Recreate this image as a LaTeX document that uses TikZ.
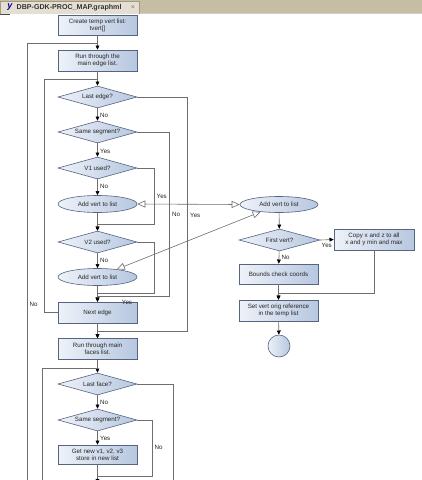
\documentclass[tikz,border=0pt]{standalone}
\usepackage{fontspec}
\setmainfont{Liberation Sans}
\usetikzlibrary{shapes.geometric,arrows.meta}
\definecolor{barcol}{HTML}{C6BDA5}
\definecolor{tabcol}{HTML}{E4DFD2}
\definecolor{tabline}{HTML}{A39A82}
\definecolor{fillA}{HTML}{EEF2F9}
\definecolor{fillB}{HTML}{B6C7E0}
\definecolor{boxline}{HTML}{55647F}
\definecolor{edgecol}{HTML}{6E6E6E}
\begin{document}
\begin{tikzpicture}[x=1pt,y=-1pt,
  every node/.style={font=\fontsize{6.2}{7.2}\selectfont, text=black!85},
  box/.style={rectangle, draw=boxline, line width=0.6pt, left color=fillA, right color=fillB, minimum width=79pt, inner sep=0pt, align=center},
  dia/.style={diamond, aspect=3.6, draw=boxline, line width=0.6pt, left color=fillA, right color=fillB, minimum width=79pt, minimum height=22pt, inner sep=0pt},
  ell/.style={ellipse, draw=boxline, line width=0.6pt, left color=fillA, right color=fillB, minimum width=79pt, minimum height=17pt, inner sep=0pt},
  edge/.style={draw=edgecol, line width=0.6pt},
  flowarr/.style={edge, -{Triangle[length=4.2pt,width=3.8pt,color=black]}},
  openboth/.style={edge, {Triangle[length=8pt,width=7pt,fill=white]}-{Triangle[length=8pt,width=7pt,fill=white]}},
  lab/.style={inner sep=0.5pt}
]
\useasboundingbox (0,0) rectangle (422,480);
\fill[white] (0,0) rectangle (422,480);
% tab bar
\fill[barcol] (0,0) rectangle (422,13);
\draw[tabline!50, line width=0.8pt] (0,13.2) -- (422,13.2);
\filldraw[fill=tabcol, draw=tabline, line width=0.5pt] (0,14) -- (0,1) -- (139,1) -- (139,14);
\node[font=\fontsize{7.1}{8}\selectfont\bfseries, text=black!80, anchor=west, inner sep=0pt] (tabtxt) at (16.5,7.3) {DBP-GDK-PROC\_MAP.graphml};
\node[font=\fontsize{7}{8}\selectfont, text=black!55, inner sep=0pt] (tabx) at (133,7.3) {×};
\node[font=\fontsize{9}{9}\selectfont\itshape\bfseries, text=blue!60!black, inner sep=0pt] (tabicon) at (10,7) {y};
\draw[black!70, line width=0.8pt] (0,14.5) -- (10,14.5);

% main column
\node[box, minimum height=20pt] (create) at (97.5,25) {Create temp vert list:\\tvert[]};
\node[box, minimum height=21pt] (run1) at (97.5,60.5) {Run through the\\main edge list.};
\node[dia] (lastedge) at (97.5,97) {Last edge?};
\node[dia] (sameseg) at (97.5,132) {Same segment?};
\node[dia] (v1) at (97.5,168) {V1 used?};
\node[ell] (add1) at (97.5,204) {Add vert to list};
\node[dia] (v2) at (97.5,242) {V2 used?};
\node[ell] (add2) at (97.5,277) {Add vert to list};
\node[box, minimum height=21pt] (next) at (97.5,312.5) {Next edge};
\node[box, minimum height=21pt] (run2) at (97.5,349) {Run through main\\faces list.};
\node[dia] (lastface) at (97.5,384) {Last face?};
\node[dia] (sameseg2) at (97.5,420) {Same segment?};
\node[box, minimum height=19pt] (getnew) at (97.5,454.5) {Get new v1, v2, v3\\store in new list};

% right column
\node[ell, minimum width=78pt, minimum height=16pt] (add3) at (279,204.5) {Add vert to list};
\node[dia, minimum width=81pt] (firstvert) at (279.5,240) {First vert?};
\node[box, minimum width=80pt, minimum height=21pt] (copy) at (374,239.5) {Copy x and z to all\\x and y min and max};
\node[box, minimum height=20pt] (bounds) at (278.5,274) {Bounds check coords};
\node[box, minimum height=21pt] (setvert) at (278.5,310.5) {Set vert orig reference\\in the temp list};
\node[circle, draw=boxline, line width=0.6pt, left color=fillA, right color=fillB, minimum size=22pt, inner sep=0pt] (endc) at (279,346) {};

% coordinates for free ends
\coordinate (outerbot) at (27,481);
\coordinate (facebot) at (42,481);
\coordinate (lfbot) at (173,481);
\coordinate (mainbot) at (97.5,483);

% edges main column
\draw[flowarr] (create) -- (run1);
\draw[edge] (outerbot) -- (27,43) -- (97.5,43);
\node[lab, anchor=west] (nolabO) at (29,304) {No};
\draw[flowarr] (run1) -- (lastedge);
\draw[edge] (next.west) -- (44,312.5) -- (44,79) -- (97.5,79);
\draw[flowarr] (lastedge) -- (sameseg);
\node[lab, anchor=west] (nolab1) at (99.5,115) {No};
\draw[flowarr] (lastedge.east) -- (187,97) -- (187,331) -- (97.5,331) -- (run2.north);
\node[lab, anchor=west] (yeslab1) at (189.5,215) {Yes};
\draw[flowarr] (sameseg) -- (v1);
\node[lab, anchor=west] (yeslab2) at (99.5,151) {Yes};
\draw[flowarr] (sameseg.east) -- (169,132) -- (169,296) -- (97.5,296) -- (next.north);
\node[lab, anchor=west] (nolab2) at (171.5,214) {No};
\draw[flowarr] (v1) -- (add1);
\node[lab, anchor=west] (nolab3) at (99.5,186) {No};
\draw[flowarr] (v1.east) -- (154,168) -- (154,224) -- (97.5,224) -- (v2.north);
\node[lab, anchor=west] (yeslab3) at (156,196.5) {Yes};
\draw[flowarr] (add1) -- (v2);
\draw[flowarr] (v2) -- (add2);
\node[lab, anchor=west] (nolab4) at (99.5,260) {No};
\draw[flowarr] (v2.east) -- (154,242) -- (154,293) -- (97.5,293) -- (next.north);
\node[lab] (yeslab4) at (127,302.5) {Yes};
\draw[flowarr] (add2) -- (next);
\draw[flowarr] (next) -- (run2);

% links to right ellipse
\draw[openboth] (add1.east) -- (add3.west);
\draw[openboth] (add3) -- (add2);

% right column edges
\draw[flowarr] (add3) -- (firstvert);
\draw[flowarr] (firstvert.east) -- (copy.west);
\node[lab, anchor=east] (yeslab5) at (332.5,245) {Yes};
\draw[flowarr] (firstvert) -- (bounds);
\node[lab, anchor=west] (nolab5) at (281,257) {No};
\draw[flowarr] (copy.south) -- (374,293) -- (278.5,293) -- (setvert.north);
\draw[flowarr] (bounds) -- (setvert);
\draw[flowarr] (setvert) -- (endc);

% faces part
\draw[flowarr] (run2) -- (lastface);
\draw[edge] (facebot) -- (42,368) -- (97.5,368);
\draw[edge] (lastface.east) -- (173,384) -- (lfbot);
\draw[flowarr] (lastface) -- (sameseg2);
\node[lab, anchor=west] (nolab6) at (99.5,402) {No};
\draw[edge] (sameseg2.east) -- (152,420) -- (152,476) -- (97.5,476);
\node[lab, anchor=west] (nolab7) at (154,447) {No};
\draw[flowarr] (sameseg2) -- (getnew);
\node[lab, anchor=west] (yeslab6) at (99.5,438) {Yes};
\draw[flowarr] (getnew.south) -- (mainbot);
\end{tikzpicture}
\end{document}
